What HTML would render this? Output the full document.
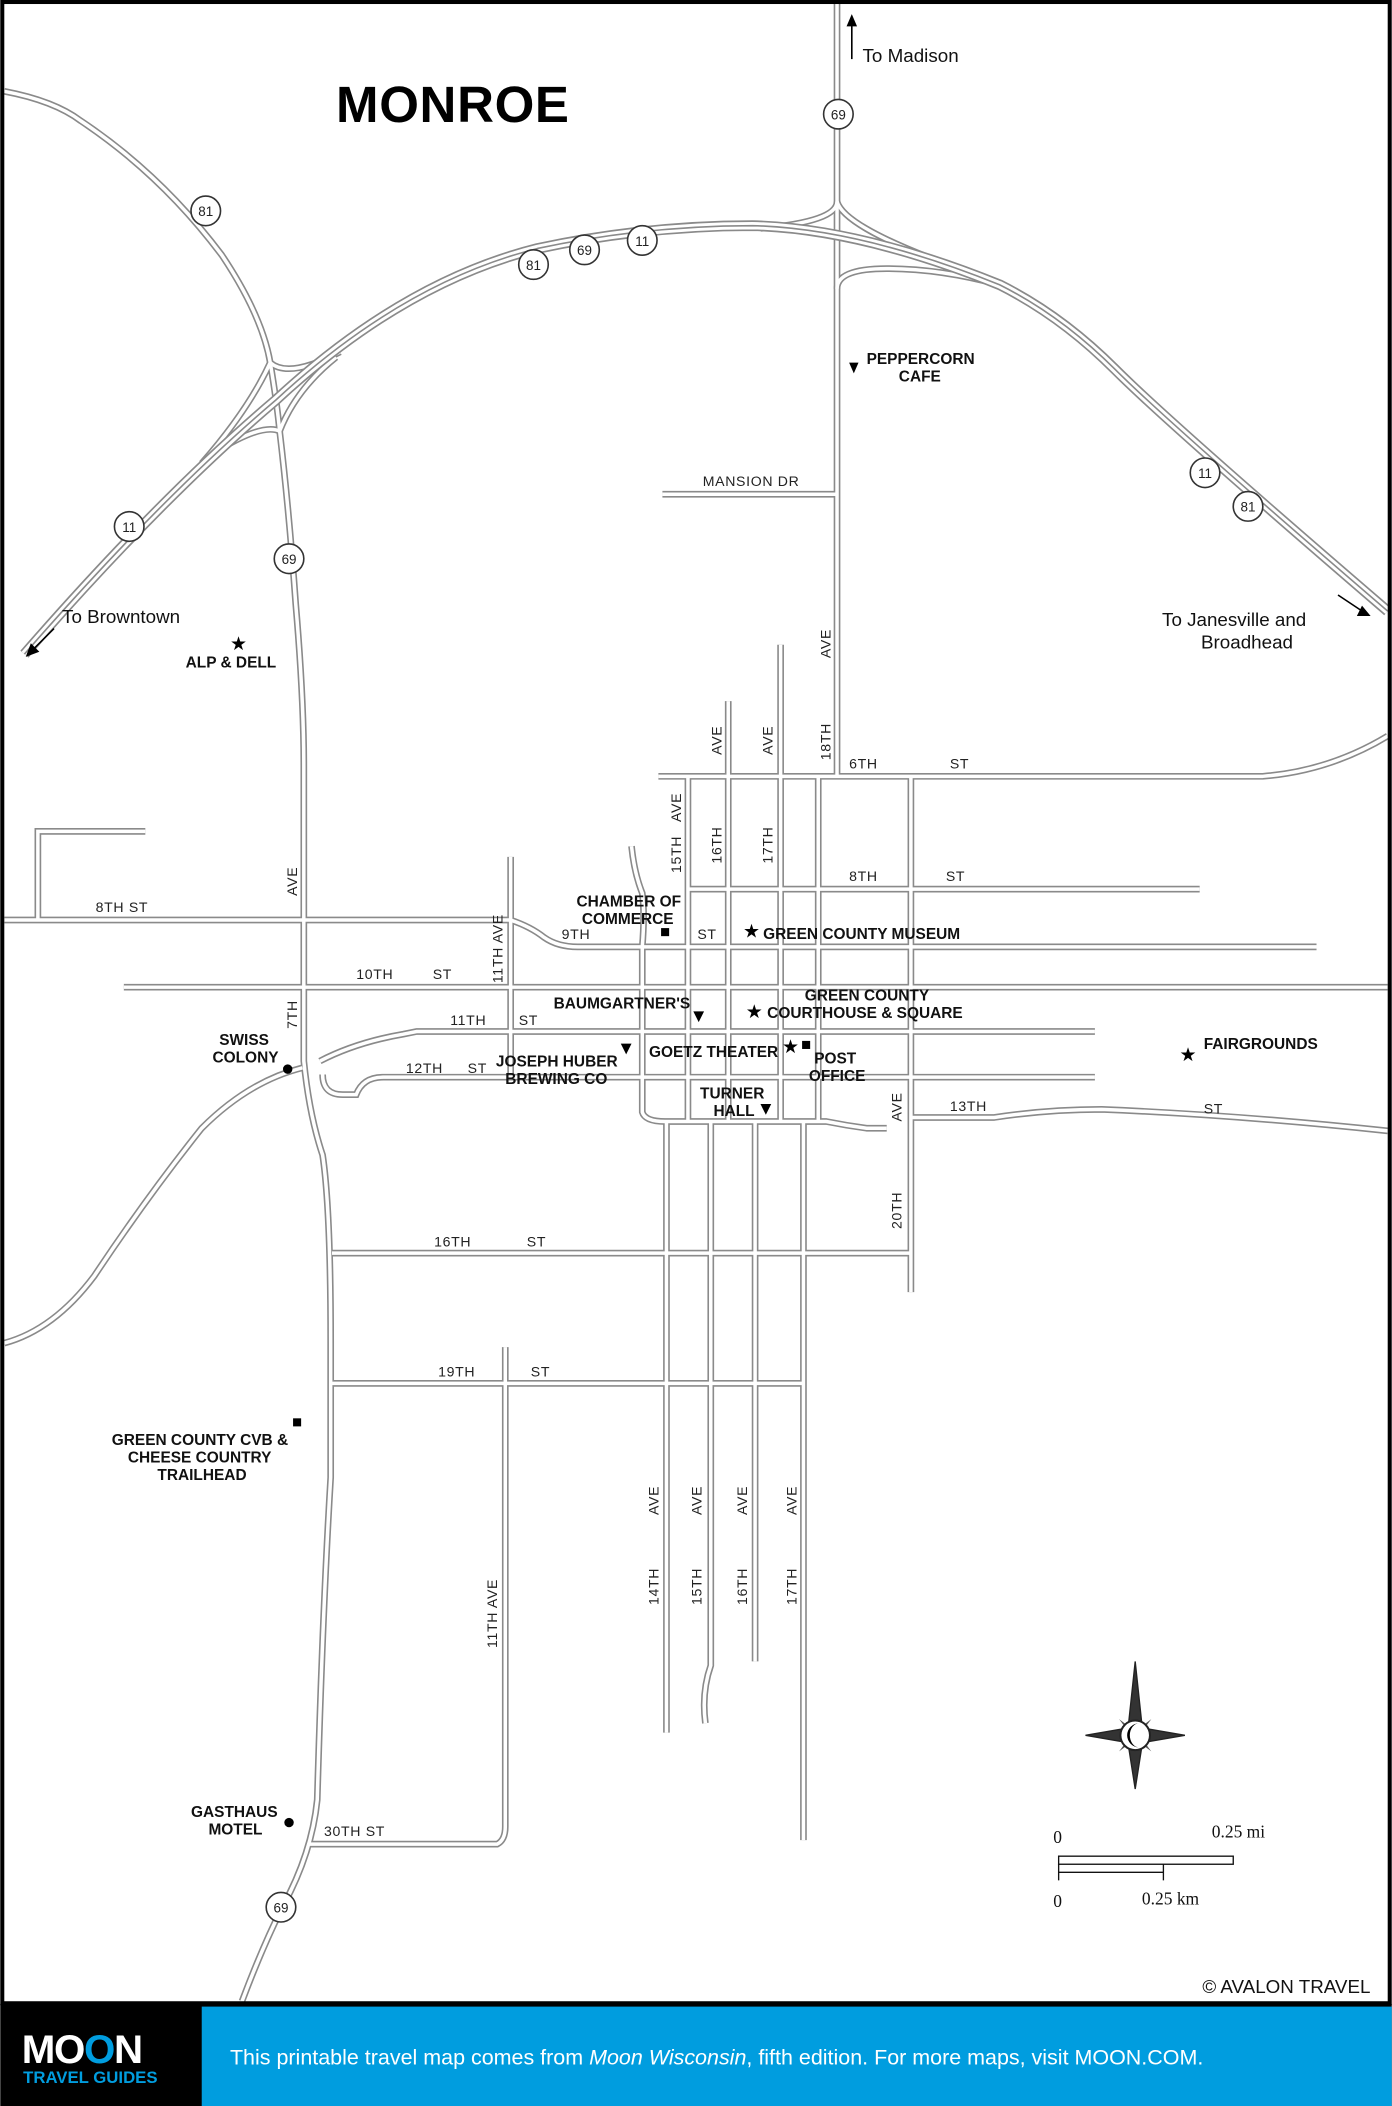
<!DOCTYPE html>
<html><head><meta charset="utf-8">
<style>
html,body{margin:0;padding:0;background:#fff;}
svg{display:block;}
text{font-family:"Liberation Sans",sans-serif;}
.s{font-size:10.5px;fill:#222;letter-spacing:0.5px;}
.b{font-size:11.5px;font-weight:bold;fill:#111;}
.sh{font-size:10px;fill:#222;text-anchor:middle;}
</style></head><body>
<svg width="1392" height="2106" viewBox="0 0 1036 1568" xmlns="http://www.w3.org/2000/svg">
<rect x="0" y="0" width="1036" height="1568" fill="#fff"/>
<defs>
<g id="roads" fill="none">
 <path d="M623 0 V578"/>
 <path d="M623 150 Q623 165 566 170"/>
 <path d="M623 150 Q628 168 700 195"/>
 <path d="M623 215 Q623 200 660 200 Q700 200 744 212"/>
 <path d="M3 68 Q40 75 60 90 Q120 130 165 190 Q195 235 201 270 Q206 300 208 321 Q215 380 220 450 Q226 520 226 570 V790 Q230 830 240 860 Q246 900 246 1000 V1100 Q240 1200 236 1340 Q232 1380 210 1420 Q195 1450 180 1490"/>
 <path d="M201 270 Q215 282 253 262"/>
 <path d="M208 321 Q195 315 161 336"/>
 <path d="M201 270 Q185 305 150 345"/>
 <path d="M208 321 Q220 290 250 266"/>
 <path d="M493 368 H623"/>
 <path d="M490 578 H940 Q990 574 1033 548"/>
 <path d="M512 662 H893"/>
 <path d="M3 685 H380"/>
 <path d="M108 619 H28 V685"/>
 <path d="M380 685 Q395 690 405 698 Q415 705 430 705 H980"/>
 <path d="M92 735 H1033"/>
 <path d="M238 790 Q265 776 300 770 L310 768 H815"/>
 <path d="M240 800 Q240 815 255 815 L265 815 Q270 802 285 802 H815"/>
 <path d="M478 705 V828 Q480 835 495 835 H615 Q630 838 645 840 H660"/>
 <path d="M678 832 H740 Q780 826 820 826 Q920 830 1033 842"/>
 <path d="M3 1000 Q40 990 70 950 Q110 890 150 840 Q185 805 225 795"/>
 <path d="M247 933 H678"/>
 <path d="M247 1030 H597"/>
 <path d="M230 1373 H370 Q376 1370 376 1360 V1003"/>
 <path d="M380 638 V800"/>
 <path d="M470 630 Q472 650 478 665 Q480 680 478 705"/>
 <path d="M512 578 V835"/>
 <path d="M542 522 V835"/>
 <path d="M581 480 V835"/>
 <path d="M609 578 V835"/>
 <path d="M678 578 V962"/>
 <path d="M496 835 V1290"/>
 <path d="M529 835 V1240 Q522 1260 525 1283"/>
 <path d="M562 835 V1237"/>
 <path d="M598 835 V1370"/>
</g>
<g id="hwy" fill="none">
 <path d="M18 487 Q120 370 205 298 Q300 210 400 185 Q480 168 560 168 Q640 170 744 212 Q790 235 830 275 T 1033 455"/>
</g>
</defs>
<use href="#roads" stroke="#8a8a8a" stroke-width="5"/>
<use href="#roads" stroke="#fff" stroke-width="2.6"/>
<use href="#hwy" stroke="#8a8a8a" stroke-width="8"/>
<use href="#hwy" stroke="#fff" stroke-width="5.5"/>
<use href="#hwy" stroke="#8a8a8a" stroke-width="1.2"/>

<g fill="#fff" stroke="#333" stroke-width="1.2">
 <circle cx="624" cy="85" r="11"/>
 <circle cx="153" cy="157" r="11"/>
 <circle cx="397" cy="197" r="11"/>
 <circle cx="435" cy="186" r="11"/>
 <circle cx="478" cy="179" r="11"/>
 <circle cx="96" cy="392" r="11"/>
 <circle cx="215" cy="416" r="11"/>
 <circle cx="897" cy="352" r="11"/>
 <circle cx="929" cy="377" r="11"/>
 <circle cx="209" cy="1420" r="11"/>
</g>
<g class="sh">
 <text x="624" y="89" class="sh">69</text>
 <text x="153" y="161" class="sh">81</text>
 <text x="397" y="201" class="sh">81</text>
 <text x="435" y="190" class="sh">69</text>
 <text x="478" y="183" class="sh">11</text>
 <text x="96" y="396" class="sh">11</text>
 <text x="215" y="420" class="sh">69</text>
 <text x="897" y="356" class="sh">11</text>
 <text x="929" y="381" class="sh">81</text>
 <text x="209" y="1424" class="sh">69</text>
</g>

<text x="250" y="91" style="font-size:38px;font-weight:bold;fill:#000;letter-spacing:0.5px">MONROE</text>

<g stroke="#000" stroke-width="1.2" fill="#000">
 <line x1="634" y1="44" x2="634" y2="16"/><path d="M634 12 l-3 7 h6z"/>
 <line x1="40" y1="468" x2="24" y2="484"/><path d="M20 488 l3-8 l5 5z"/>
 <line x1="996" y1="443" x2="1014" y2="455"/><path d="M1019 458 l-8 0 l3-6z"/>
</g>
<g style="font-size:14px;fill:#111">
 <text x="642" y="46">To Madison</text>
 <text x="46" y="464">To Browntown</text>
 <text x="865" y="466">To Janesville and</text>
 <text x="894" y="483">Broadhead</text>
</g>

<g class="s">
 <text x="523" y="362">MANSION  DR</text>
 <text x="632" y="572">6TH</text><text x="707" y="572">ST</text>
 <text x="632" y="656">8TH</text><text x="704" y="656">ST</text>
 <text x="71" y="679">8TH ST</text>
 <text x="418" y="699">9TH</text><text x="519" y="699">ST</text>
 <text x="265" y="729">10TH</text><text x="322" y="729">ST</text>
 <text x="335" y="763">11TH</text><text x="386" y="763">ST</text>
 <text x="302" y="799">12TH</text><text x="348" y="799">ST</text>
 <text x="707" y="827">13TH</text><text x="896" y="829">ST</text>
 <text x="323" y="928">16TH</text><text x="392" y="928">ST</text>
 <text x="326" y="1025">19TH</text><text x="395" y="1025">ST</text>
 <text x="241" y="1367">30TH ST</text>
 <text transform="translate(221,667) rotate(-90)">AVE</text>
 <text transform="translate(221,766) rotate(-90)">7TH</text>
 <text transform="translate(374,732) rotate(-90)">11TH AVE</text>
 <text transform="translate(537,562) rotate(-90)">AVE</text>
 <text transform="translate(575,562) rotate(-90)">AVE</text>
 <text transform="translate(618,490) rotate(-90)">AVE</text>
 <text transform="translate(618,566) rotate(-90)">18TH</text>
 <text transform="translate(507,612) rotate(-90)">AVE</text>
 <text transform="translate(507,650) rotate(-90)">15TH</text>
 <text transform="translate(537,643) rotate(-90)">16TH</text>
 <text transform="translate(575,643) rotate(-90)">17TH</text>
 <text transform="translate(671,835) rotate(-90)">AVE</text>
 <text transform="translate(671,915) rotate(-90)">20TH</text>
 <text transform="translate(490,1128) rotate(-90)">AVE</text>
 <text transform="translate(490,1195) rotate(-90)">14TH</text>
 <text transform="translate(522,1128) rotate(-90)">AVE</text>
 <text transform="translate(522,1195) rotate(-90)">15TH</text>
 <text transform="translate(556,1128) rotate(-90)">AVE</text>
 <text transform="translate(556,1195) rotate(-90)">16TH</text>
 <text transform="translate(593,1128) rotate(-90)">AVE</text>
 <text transform="translate(593,1195) rotate(-90)">17TH</text>
 <text transform="translate(370,1227) rotate(-90)">11TH AVE</text>
</g>

<g class="b">
 <text x="645" y="271">PEPPERCORN</text><text x="669" y="284">CAFE</text>
 <text x="138" y="497">ALP &amp; DELL</text>
 <text x="429" y="675">CHAMBER OF</text><text x="433" y="688">COMMERCE</text>
 <text x="568" y="699">GREEN COUNTY MUSEUM</text>
 <text x="412" y="751">BAUMGARTNER'S</text>
 <text x="599" y="745">GREEN COUNTY</text>
 <text x="571" y="758">COURTHOUSE &amp; SQUARE</text>
 <text x="163" y="778">SWISS</text><text x="158" y="791">COLONY</text>
 <text x="483" y="787">GOETZ THEATER</text>
 <text x="369" y="794">JOSEPH HUBER</text><text x="376" y="807">BREWING CO</text>
 <text x="606" y="792">POST</text><text x="602" y="805">OFFICE</text>
 <text x="521" y="818">TURNER</text><text x="531" y="831">HALL</text>
 <text x="896" y="781">FAIRGROUNDS</text>
 <text x="83" y="1076">GREEN COUNTY CVB &amp;</text>
 <text x="95" y="1089">CHEESE COUNTRY</text>
 <text x="117" y="1102">TRAILHEAD</text>
 <text x="142" y="1353">GASTHAUS</text><text x="155" y="1366">MOTEL</text>
</g>
<g fill="#000" style="font-size:14px">
 <path d="M632 270 h7 l-3.5 8z"/>
 <text x="171" y="484">★</text>
 <rect x="492" y="691" width="6" height="6"/>
 <text x="553" y="698">★</text>
 <path d="M516 753 h8 l-4 8z"/>
 <text x="555" y="758">★</text>
 <circle cx="214" cy="796" r="3.5"/>
 <path d="M462 777 h8 l-4 8z"/>
 <text x="582" y="784">★</text>
 <rect x="597" y="775" width="6" height="6"/>
 <path d="M566 822 h8 l-4 8z"/>
 <text x="878" y="790">★</text>
 <rect x="218" y="1056" width="6" height="6"/>
 <circle cx="215" cy="1357" r="3.5"/>
</g>

<g transform="translate(845,1292)">
 <path d="M0 -55 L5 -8 L0 0 L-5 -8Z M0 40 L5 8 L0 0 L-5 8Z M-37 0 L-8 -5 L0 0 L-8 5Z M37 0 L8 -5 L0 0 L8 5Z" fill="#333" stroke="#222"/>
 <path d="M-12 -12 L0 -3 L12 -12 L3 0 L12 12 L0 3 L-12 12 L-3 0Z" fill="#555"/>
 <circle r="11" fill="#fff" stroke="#222" stroke-width="1.5"/>
 <path d="M3 -9 A9 9 0 1 0 3 9 A7 9 0 0 1 3 -9Z" fill="#000"/>
</g>
<g style="font-size:13px" fill="#111">
 <text x="784" y="1372" style="font-family:'Liberation Serif',serif">0</text>
 <text x="902" y="1368" style="font-family:'Liberation Serif',serif">0.25 mi</text>
 <text x="784" y="1420" style="font-family:'Liberation Serif',serif">0</text>
 <text x="850" y="1418" style="font-family:'Liberation Serif',serif">0.25 km</text>
</g>
<g stroke="#111" stroke-width="1" fill="none">
 <rect x="788" y="1382" width="130" height="6"/>
 <line x1="788" y1="1388" x2="788" y2="1400"/>
 <line x1="788" y1="1394" x2="866" y2="1394"/>
 <line x1="866" y1="1388" x2="866" y2="1400"/>
</g>
<text x="895" y="1484" style="font-size:14px;fill:#111">© AVALON TRAVEL</text>

<rect x="1.5" y="1.5" width="1033" height="1490" fill="none" stroke="#000" stroke-width="3"/>
<rect x="0" y="1492" width="1036" height="76" fill="#000"/>
<rect x="150" y="1494" width="886" height="74" fill="#009ddf"/>
<text x="16" y="1536" style="font-size:30px;font-weight:bold;fill:#fff;letter-spacing:-1px">MO<tspan fill="#009ddf">O</tspan>N</text>
<text x="17" y="1551" style="font-size:12.5px;font-weight:bold;fill:#009ddf">TRAVEL GUIDES</text>
<text x="171" y="1537" style="font-size:16px;fill:#fff">This printable travel map comes from <tspan font-style="italic">Moon Wisconsin</tspan>, fifth edition. For more maps, visit MOON.COM.</text>
</svg>
</body></html>
